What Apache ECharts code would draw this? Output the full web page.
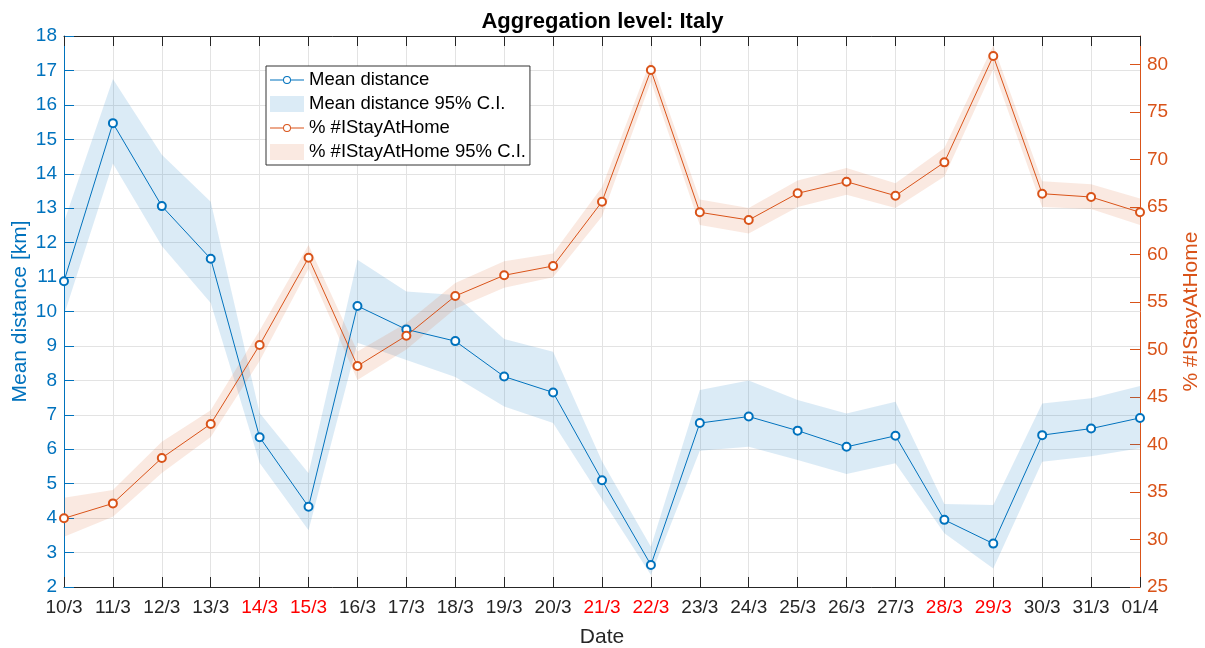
<!DOCTYPE html>
<html>
<head>
<meta charset="utf-8">
<script src="https://cdn.jsdelivr.net/npm/echarts@6/dist/echarts.min.js"></script>
<style>
  html, body { margin: 0; padding: 0; background: #fff; overflow: hidden; }
  #chart { width: 1205px; height: 648px; }
</style>
</head>
<body>
<div id="chart"></div>
<script>
const dates = ['10/3', '11/3', '12/3', '13/3', '14/3', '15/3', '16/3', '17/3', '18/3', '19/3', '20/3', '21/3',
  '22/3', '23/3', '24/3', '25/3', '26/3', '27/3', '28/3', '29/3', '30/3', '31/3', '01/4']
const weekendDays = ['14/3', '15/3', '21/3', '22/3', '28/3', '29/3']

// mean distance [km] and its 95% C.I.
const meanDist = [10.88, 15.47, 13.06, 11.53, 6.35, 4.33, 10.16, 9.48, 9.14, 8.11, 7.65, 5.10,
  2.64, 6.76, 6.95, 6.54, 6.07, 6.39, 3.95, 3.26, 6.41, 6.60, 6.91]
const distLow = [9.9, 14.3, 11.9, 10.25, 5.6, 3.65, 9.09, 8.59, 8.1, 7.24, 6.76, 4.55,
  2.35, 5.96, 6.07, 5.69, 5.28, 5.59, 3.56, 2.54, 5.64, 5.8, 6.03]
const distHigh = [12.6, 16.75, 14.55, 13.19, 7.05, 5.3, 11.5, 10.58, 10.48, 9.2, 8.83, 5.65,
  3.17, 7.72, 8.0, 7.43, 7.04, 7.38, 4.41, 4.38, 7.33, 7.48, 7.84]

// % #IStayAtHome and its 95% C.I.
const stayHome = [32.23, 33.8, 38.58, 42.16, 50.47, 59.66, 48.26, 51.45, 55.63, 57.81, 58.79, 65.56,
  79.42, 64.44, 63.63, 66.44, 67.66, 66.19, 69.7, 80.9, 66.4, 66.05, 64.44]
const stayLow = [30.3, 32.4, 37.0, 40.8, 48.8, 58.5, 46.8, 50.0, 54.3, 56.5, 57.6, 64.0,
  78.2, 63.1, 62.2, 65.0, 66.3, 64.9, 68.2, 79.5, 65.0, 64.8, 63.1]
const stayHigh = [34.4, 35.2, 40.3, 43.6, 52.0, 61.0, 49.8, 52.8, 57.0, 59.3, 60.1, 67.1,
  80.5, 65.8, 64.9, 67.8, 69.1, 67.5, 71.2, 82.0, 67.7, 67.4, 65.9]

const BLUE = '#0072BD'
const ORANGE = '#D95319'
const BLUE_BAND = 'rgba(0,114,189,0.14)'
const ORANGE_BAND = 'rgba(217,83,25,0.13)'
const AXIS_GRAY = '#262626'
const FONT = '"Liberation Sans", Arial, sans-serif'

// legend icon: thin line with a small hollow circle (34 x 16 box)
const LINE_MARKER_ICON = 'path://M0,0 L0,0 M34,16 L34,16 ' +
  'M0,7.5 L13,7.5 L13,8.5 L0,8.5 Z M21,7.5 L34,7.5 L34,8.5 L21,8.5 Z ' +
  'M21,8 A4,4 0 1,1 13,8 A4,4 0 1,1 21,8 Z M20,8 A3,3 0 1,0 14,8 A3,3 0 1,0 20,8 Z'

function bandSeries(name, low, high, yIndex, stack, color) {
  return [
    {
      name: stack + '-base',
      type: 'line',
      yAxisIndex: yIndex,
      stack: stack,
      data: low,
      symbol: 'none',
      lineStyle: { opacity: 0 },
      silent: true,
    },
    {
      name: name,
      type: 'line',
      yAxisIndex: yIndex,
      stack: stack,
      data: high.map((h, i) => +(h - low[i]).toFixed(3)),
      symbol: 'none',
      lineStyle: { opacity: 0 },
      itemStyle: { color: color },
      areaStyle: { color: color, opacity: 1 },
      silent: true,
    },
  ]
}

const chart = echarts.init(document.getElementById('chart'))
chart.setOption({
  animation: false,
  textStyle: { fontFamily: FONT },
  title: {
    text: 'Aggregation level: Italy',
    left: 'center',
    top: 6,
    textStyle: { fontSize: 22, fontWeight: 'bold', color: '#000', fontFamily: FONT },
  },
  legend: {
    orient: 'vertical',
    left: 266,
    top: 66,
    padding: [4, 4, 3, 4],
    itemWidth: 34,
    itemHeight: 16,
    itemGap: 4,
    selectedMode: false,
    backgroundColor: '#fff',
    borderColor: '#333',
    borderWidth: 1,
    textStyle: { fontSize: 18.5, color: '#000', lineHeight: 20, fontFamily: FONT },
    data: [
      { name: 'Mean distance', icon: LINE_MARKER_ICON, itemStyle: { color: BLUE, borderWidth: 0 } },
      { name: 'Mean distance 95% C.I.', icon: 'rect', itemStyle: { color: BLUE_BAND, borderWidth: 0 } },
      { name: '% #IStayAtHome', icon: LINE_MARKER_ICON, itemStyle: { color: ORANGE, borderWidth: 0 } },
      { name: '% #IStayAtHome 95% C.I.', icon: 'rect', itemStyle: { color: ORANGE_BAND, borderWidth: 0 } },
    ],
  },
  grid: { left: 64, right: 65, top: 36, bottom: 61, containLabel: false, outerBoundsMode: 'none' },
  xAxis: [
    {
      type: 'category',
      data: dates,
      boundaryGap: false,
      name: 'Date',
      nameLocation: 'middle',
      nameGap: 40,
      nameMoveOverlap: false,
      nameTextStyle: { fontSize: 21, color: AXIS_GRAY },
      axisLine: { onZero: false, lineStyle: { color: AXIS_GRAY, width: 1 } },
      axisTick: { inside: true, length: 10, lineStyle: { color: AXIS_GRAY } },
      axisLabel: {
        fontSize: 19,
        margin: 11,
        interval: 0,
        color: (value) => (weekendDays.includes(value) ? '#ff0000' : AXIS_GRAY),
      },
      splitLine: { show: true, lineStyle: { color: '#e3e3e3', width: 1 } },
    },
    {
      type: 'category',
      data: dates,
      boundaryGap: false,
      position: 'top',
      axisLine: { onZero: false, lineStyle: { color: AXIS_GRAY, width: 1 } },
      axisTick: { inside: true, length: 10, lineStyle: { color: AXIS_GRAY } },
      axisLabel: { show: false },
      splitLine: { show: false },
    },
  ],
  yAxis: [
    {
      type: 'value',
      min: 2,
      max: 18,
      interval: 1,
      name: 'Mean distance [km]',
      nameLocation: 'middle',
      nameGap: 33,
      nameMoveOverlap: false,
      nameTextStyle: { fontSize: 21, color: BLUE },
      axisLine: { show: true, lineStyle: { color: BLUE, width: 1 } },
      axisTick: { show: true, inside: true, length: 10, lineStyle: { color: BLUE } },
      axisLabel: { fontSize: 19, color: BLUE, margin: 7 },
      splitLine: { show: true, lineStyle: { color: '#e3e3e3', width: 1 } },
    },
    {
      type: 'value',
      min: 25,
      max: 83,
      interval: 5,
      position: 'right',
      name: '% #IStayAtHome',
      nameLocation: 'middle',
      nameGap: 41,
      nameMoveOverlap: false,
      nameTextStyle: { fontSize: 21, color: ORANGE },
      axisLine: { show: true, lineStyle: { color: ORANGE, width: 1 } },
      axisTick: { show: true, inside: true, length: 10, lineStyle: { color: ORANGE } },
      axisLabel: { fontSize: 19, color: ORANGE, margin: 7, showMaxLabel: false },
      splitLine: { show: false },
    },
  ],
  series: [
    ...bandSeries('Mean distance 95% C.I.', distLow, distHigh, 0, 'dist', BLUE_BAND),
    ...bandSeries('% #IStayAtHome 95% C.I.', stayLow, stayHigh, 1, 'stay', ORANGE_BAND),
    {
      name: 'Mean distance',
      type: 'line',
      yAxisIndex: 0,
      data: meanDist,
      symbol: 'emptyCircle',
      symbolSize: 8,
      lineStyle: { color: BLUE, width: 1 },
      itemStyle: { color: BLUE, borderWidth: 0.9 },
    },
    {
      name: '% #IStayAtHome',
      type: 'line',
      yAxisIndex: 1,
      data: stayHome,
      symbol: 'emptyCircle',
      symbolSize: 8,
      lineStyle: { color: ORANGE, width: 1 },
      itemStyle: { color: ORANGE, borderWidth: 0.9 },
    },
  ],
})
</script>
</body>
</html>
